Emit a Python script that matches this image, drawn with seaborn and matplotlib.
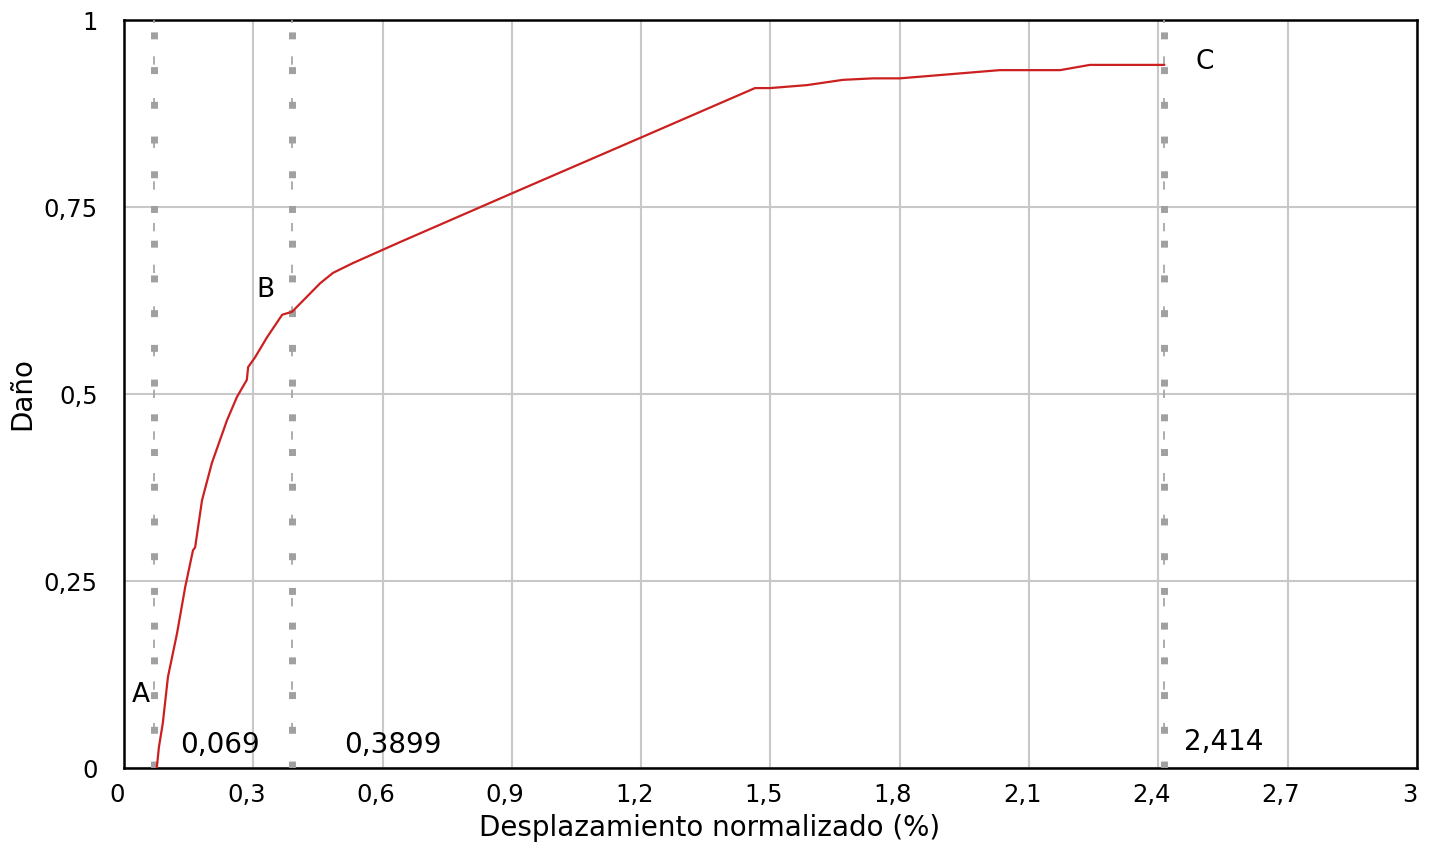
import matplotlib
matplotlib.use("Agg")
import matplotlib.pyplot as plt
import matplotlib.transforms as mtransforms
import seaborn as sns
import pandas as pd

# Damage curve: normalised drift (%) vs damage index
drift = [0.076, 0.081, 0.090, 0.102, 0.123, 0.142, 0.160, 0.165, 0.181, 0.204,
         0.239, 0.262, 0.285, 0.288, 0.304, 0.332, 0.367, 0.390, 0.455, 0.485,
         0.531, 0.601, 0.640, 0.903, 1.204, 1.464, 1.499, 1.585, 1.668, 1.738,
         1.800, 2.032, 2.172, 2.241, 2.414]
damage = [0.000, 0.028, 0.060, 0.122, 0.180, 0.242, 0.291, 0.295, 0.358, 0.408,
          0.465, 0.496, 0.519, 0.536, 0.549, 0.576, 0.606, 0.610, 0.648, 0.662,
          0.675, 0.693, 0.703, 0.769, 0.844, 0.909, 0.909, 0.913, 0.920, 0.922,
          0.922, 0.933, 0.933, 0.940, 0.940]

# Limit states
limit_names = ["A", "B", "C"]
limit_drift = [0.069, 0.3899, 2.414]
limit_text = ["0,069", "0,3899", "2,414"]
letter_pos = [(0.04, 0.098), (0.327, 0.639), (2.508, 0.944)]
value_pos = [(0.223, 0.031), (0.624, 0.031), (2.552, 0.035)]

x_ticks = [0, 0.3, 0.6, 0.9, 1.2, 1.5, 1.8, 2.1, 2.4, 2.7, 3]
x_ticklabels = ["0", "0,3", "0,6", "0,9", "1,2", "1,5", "1,8", "2,1", "2,4", "2,7", "3"]
y_ticks = [0, 0.25, 0.5, 0.75, 1]
y_ticklabels = ["0", "0,25", "0,5", "0,75", "1"]

sns.set_theme(style="white")
plt.rcParams["font.family"] = ["DejaVu Sans"]

fig = plt.figure(figsize=(14.32, 8.48), dpi=100)
ax = fig.add_axes([0.0866, 0.0943, 0.9029, 0.8821])

df = pd.DataFrame({"drift": drift, "damage": damage})
sns.lineplot(data=df, x="drift", y="damage", ax=ax, color="#cc2020",
             linewidth=1.6, sort=False, zorder=4)

for xv in limit_drift:
    ax.axvline(xv, color="#a0a0a0", linewidth=5, linestyle=(0, (1.0, 4.0)),
               zorder=3)
    ax.axvline(xv, color="#a0a0a0", linewidth=1.2, linestyle=(3, (5, 20)),
               zorder=3)

for name, (lx, ly) in zip(limit_names, letter_pos):
    ax.text(lx, ly, name, fontsize=19, color="black", ha="center", va="center",
            zorder=5)
for txt, (tx, ty) in zip(limit_text, value_pos):
    ax.text(tx, ty, txt, fontsize=20, color="black", ha="center", va="center",
            zorder=5)

ax.set_xlim(0, 3)
ax.set_ylim(0, 1)
ax.set_xticks(x_ticks)
ax.set_xticklabels(x_ticklabels)
ax.set_yticks(y_ticks)
ax.set_yticklabels(y_ticklabels)
ax.tick_params(axis="both", length=0, labelsize=17.5, colors="black")
ax.tick_params(axis="x", pad=11)
ax.tick_params(axis="y", pad=19)
shift = mtransforms.ScaledTranslation(-7 / 100, 0, fig.dpi_scale_trans)
for lab in ax.get_xticklabels():
    lab.set_transform(lab.get_transform() + shift)
ax.grid(True, color="#c8c8c8", linewidth=1.5)
ax.set_axisbelow(True)
for sp in ax.spines.values():
    sp.set_color("black")
    sp.set_linewidth(1.8)

ax.set_xlabel("Desplazamiento normalizado (%)", fontsize=20, color="black")
ax.xaxis.set_label_coords(0.453, -0.062)
ax.set_ylabel("Daño", fontsize=20, color="black", labelpad=5)

fig.savefig("out.png", dpi=100, facecolor="white")
